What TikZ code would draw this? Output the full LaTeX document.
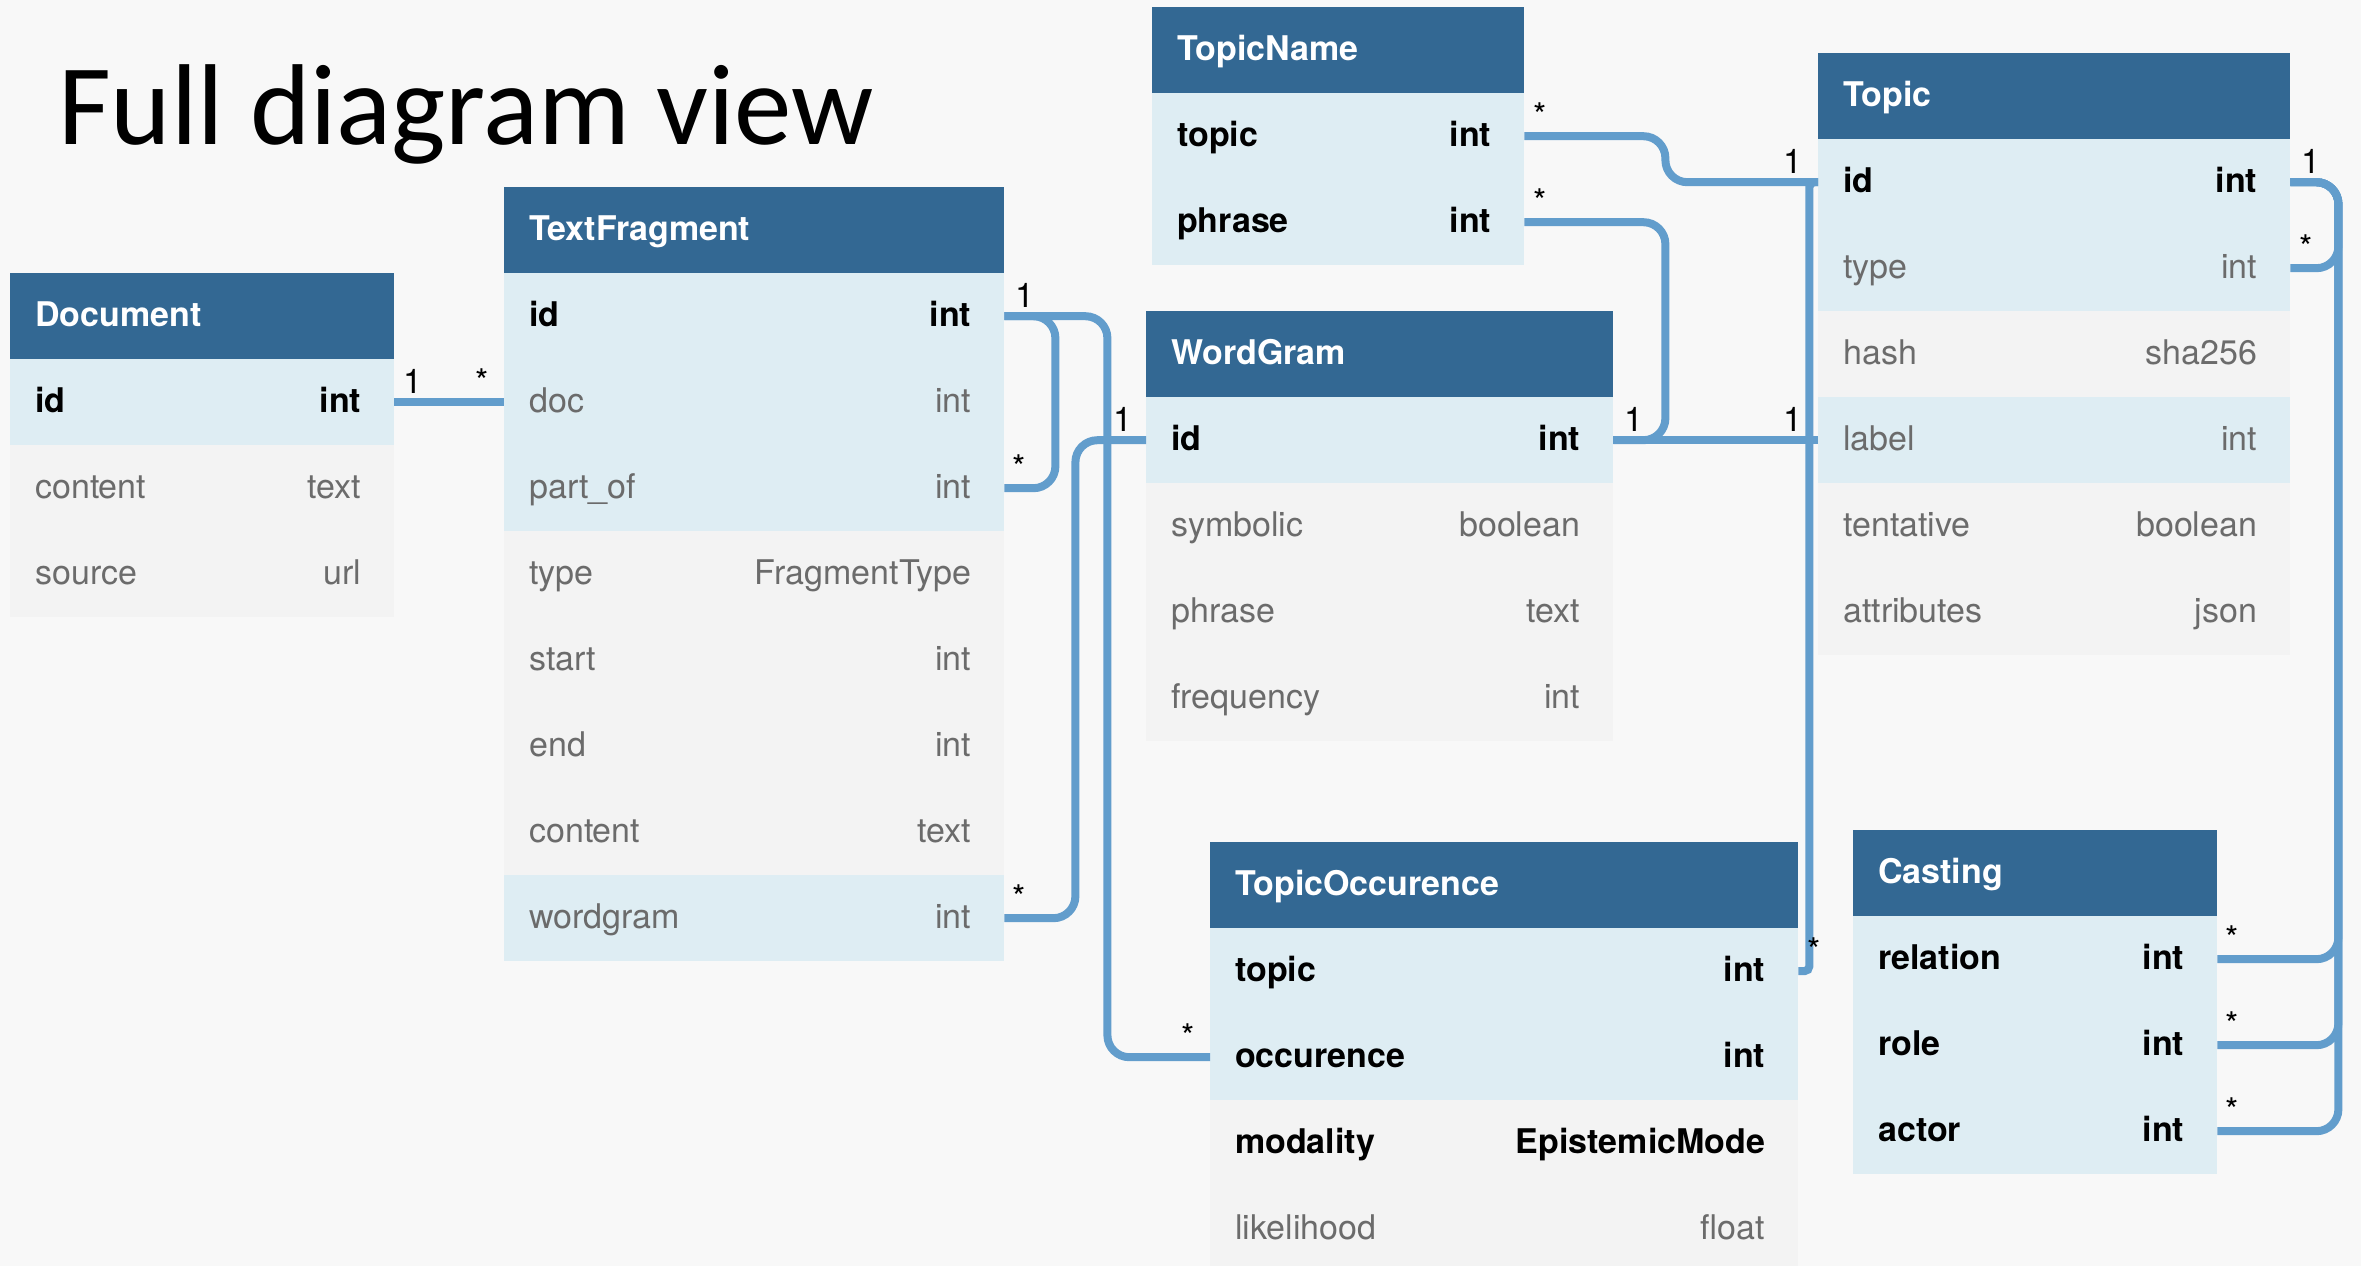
\documentclass[tikz,border=0pt]{standalone}
\usepackage{fontspec}
\setmainfont{TeX Gyre Heros}
\newfontfamily\titlefont{Carlito}

\definecolor{bg}{HTML}{F8F8F8}
\definecolor{hdrblue}{HTML}{336893}
\definecolor{rowblue}{HTML}{DEEDF3}
\definecolor{rowgrey}{HTML}{F3F3F3}
\definecolor{connblue}{HTML}{629DCC}
\definecolor{plaingrey}{HTML}{6B6B6B}

\tikzset{
  txt/.style={inner sep=0pt, font=\fontsize{34pt}{40pt}\selectfont},
  hdr/.style={rectangle, fill=hdrblue, inner sep=0pt, minimum height=86pt, anchor=north west},
  cell/.style={rectangle, inner sep=0pt, minimum height=86pt, anchor=north west},
  hdrtext/.style={txt, text=white, font=\fontsize{34pt}{40pt}\selectfont\bfseries},
  key/.style={txt, text=black, font=\fontsize{34pt}{40pt}\selectfont\bfseries},
  plain/.style={txt, text=plaingrey},
  mult/.style={txt, text=black},
  conn/.style={draw=connblue, line width=8pt, rounded corners=22pt},
}

% table header: name, x, y, width, title
\newcommand\ehead[5]{%
  \node[hdr, minimum width=#4pt] (#1) at (#2,#3) {};
  \node[hdrtext, anchor=base west] (#1-name) at ([xshift=25pt,yshift=-10pt]#1.west) {#5};
}
% table row: name, x, y, width, fill, text style, field, type
\newcommand\erow[8]{%
  \node[cell, fill=#5, minimum width=#4pt] (#1) at (#2,#3) {};
  \node[#6, anchor=base west] (#1-f) at ([xshift=25pt,yshift=-10pt]#1.west) {#7};
  \node[#6, anchor=base east] (#1-t) at ([xshift=-33pt,yshift=-10pt]#1.east) {#8};
}

\begin{document}
\begin{tikzpicture}[x=1pt, y=-1pt]
\useasboundingbox (0,0) rectangle (2361,1266);
\clip (0,0) rectangle (2361,1266);
\fill[bg] (0,0) rectangle (2361,1266);

\node[inner sep=0pt, anchor=base west, font=\titlefont\fontsize{115pt}{130pt}\selectfont] (title) at (58,144) {Full diagram view};

% Document
\ehead{doc}{10}{273}{384}{Document}
\erow{doc-id}{10}{359}{384}{rowblue}{key}{id}{int}
\erow{doc-content}{10}{445}{384}{rowgrey}{plain}{content}{text}
\erow{doc-source}{10}{531}{384}{rowgrey}{plain}{source}{url}

% TextFragment
\ehead{tf}{504}{187}{500}{TextFragment}
\erow{tf-id}{504}{273}{500}{rowblue}{key}{id}{int}
\erow{tf-doc}{504}{359}{500}{rowblue}{plain}{doc}{int}
\erow{tf-partof}{504}{445}{500}{rowblue}{plain}{part\_of}{int}
\erow{tf-type}{504}{531}{500}{rowgrey}{plain}{type}{FragmentType}
\erow{tf-start}{504}{617}{500}{rowgrey}{plain}{start}{int}
\erow{tf-end}{504}{703}{500}{rowgrey}{plain}{end}{int}
\erow{tf-content}{504}{789}{500}{rowgrey}{plain}{content}{text}
\erow{tf-wordgram}{504}{875}{500}{rowblue}{plain}{wordgram}{int}

% TopicName
\ehead{tn}{1152}{7}{372}{TopicName}
\erow{tn-topic}{1152}{93}{372}{rowblue}{key}{topic}{int}
\erow{tn-phrase}{1152}{179}{372}{rowblue}{key}{phrase}{int}

% WordGram
\ehead{wg}{1146}{311}{467}{WordGram}
\erow{wg-id}{1146}{397}{467}{rowblue}{key}{id}{int}
\erow{wg-symbolic}{1146}{483}{467}{rowgrey}{plain}{symbolic}{boolean}
\erow{wg-phrase}{1146}{569}{467}{rowgrey}{plain}{phrase}{text}
\erow{wg-frequency}{1146}{655}{467}{rowgrey}{plain}{frequency}{int}

% Topic
\ehead{tp}{1818}{53}{472}{Topic}
\erow{tp-id}{1818}{139}{472}{rowblue}{key}{id}{int}
\erow{tp-type}{1818}{225}{472}{rowblue}{plain}{type}{int}
\erow{tp-hash}{1818}{311}{472}{rowgrey}{plain}{hash}{sha256}
\erow{tp-label}{1818}{397}{472}{rowblue}{plain}{label}{int}
\erow{tp-tentative}{1818}{483}{472}{rowgrey}{plain}{tentative}{boolean}
\erow{tp-attributes}{1818}{569}{472}{rowgrey}{plain}{attributes}{json}

% TopicOccurence
\ehead{to}{1210}{842}{588}{TopicOccurence}
\erow{to-topic}{1210}{928}{588}{rowblue}{key}{topic}{int}
\erow{to-occurence}{1210}{1014}{588}{rowblue}{key}{occurence}{int}
\erow{to-modality}{1210}{1100}{588}{rowgrey}{key}{modality}{EpistemicMode}
\erow{to-likelihood}{1210}{1186}{588}{rowgrey}{plain}{likelihood}{float}

% Casting
\ehead{cs}{1853}{830}{364}{Casting}
\erow{cs-relation}{1853}{916}{364}{rowblue}{key}{relation}{int}
\erow{cs-role}{1853}{1002}{364}{rowblue}{key}{role}{int}
\erow{cs-actor}{1853}{1088}{364}{rowblue}{key}{actor}{int}

% relationships
\draw[conn] (doc-id.east) -- (tf-doc.west);
\draw[conn] (tf-id.east) -- ++(51,0) |- (tf-partof.east);
\draw[conn] (tf-id.east) -- ++(103,0) |- (to-occurence.west);
\draw[conn] (tf-wordgram.east) -- ++(71,0) |- (wg-id.west);
\draw[conn] (wg-id.east) -- (tp-label.west);
\draw[conn] (tn-phrase.east) -- ++(141,0) |- (wg-id.east);
\draw[conn] (tn-topic.east) -- ++(141,0) |- (tp-id.west);
\draw[conn, rounded corners=5pt] (to-topic.east) -- ++(11,0) |- (tp-id.west);
\draw[conn] (tp-id.east) -- ++(48,0) |- (tp-type.east);
\draw[conn] (cs-relation.east) -- ++(121,0) |- (tp-id.east);
\draw[conn] (cs-role.east) -- ++(121,0) |- (tp-id.east);
\draw[conn] (cs-actor.east) -- ++(121,0) |- (tp-id.east);

% multiplicities
\node[mult, anchor=base west] (m1) at ([xshift=9pt,yshift=9pt]doc-id.east) {1};
\node[mult, anchor=base east] (m2) at ([xshift=-15pt,yshift=9pt]tf-doc.west) {*};
\node[mult, anchor=base west] (m3) at ([xshift=11pt,yshift=9pt]tf-id.east) {1};
\node[mult, anchor=base west] (m4) at ([xshift=8pt,yshift=9pt]tf-partof.east) {*};
\node[mult, anchor=base west] (m5) at ([xshift=8pt,yshift=9pt]tf-wordgram.east) {*};
\node[mult, anchor=base east] (m6) at ([xshift=-13pt,yshift=9pt]wg-id.west) {1};
\node[mult, anchor=base east] (m7) at ([xshift=-15pt,yshift=9pt]to-occurence.west) {*};
\node[mult, anchor=base west] (m8) at ([xshift=11pt,yshift=9pt]wg-id.east) {1};
\node[mult, anchor=base east] (m9) at ([xshift=-15pt,yshift=9pt]tp-label.west) {1};
\node[mult, anchor=base west] (m10) at ([xshift=9pt,yshift=9pt]tn-topic.east) {*};
\node[mult, anchor=base west] (m11) at ([xshift=9pt,yshift=9pt]tn-phrase.east) {*};
\node[mult, anchor=base east] (m12) at ([xshift=-15pt,yshift=9pt]tp-id.west) {1};
\node[mult, anchor=base west] (m13) at ([xshift=9pt,yshift=9pt]to-topic.east) {*};
\node[mult, anchor=base west] (m14) at ([xshift=11pt,yshift=9pt]tp-id.east) {1};
\node[mult, anchor=base west] (m15) at ([xshift=9pt,yshift=9pt]tp-type.east) {*};
\node[mult, anchor=base west] (m16) at ([xshift=8pt,yshift=9pt]cs-relation.east) {*};
\node[mult, anchor=base west] (m17) at ([xshift=8pt,yshift=9pt]cs-role.east) {*};
\node[mult, anchor=base west] (m18) at ([xshift=8pt,yshift=9pt]cs-actor.east) {*};
\end{tikzpicture}
\end{document}
